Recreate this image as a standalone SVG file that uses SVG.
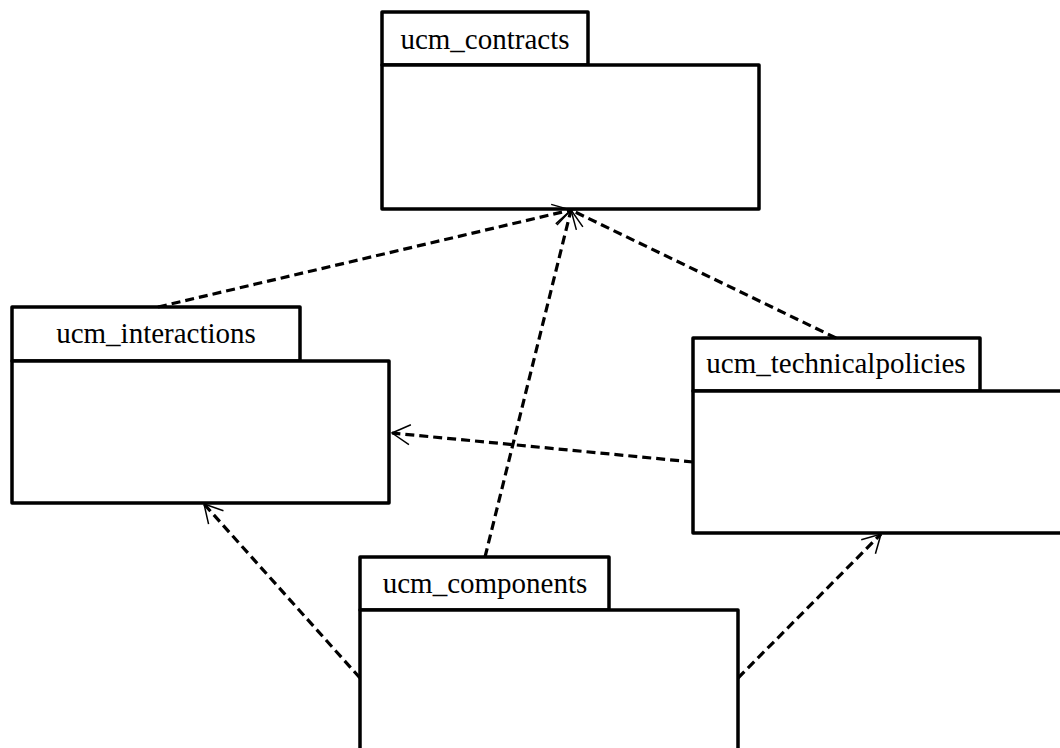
<svg xmlns="http://www.w3.org/2000/svg" width="1060" height="748" viewBox="0 0 1060 748">
<style>
.box{fill:#fff;stroke:#000;stroke-width:3.5;stroke-linejoin:round}
.lbl{font-size:29px;fill:#000;text-anchor:middle}
.dep{fill:none;stroke:#000;stroke-width:3.2;stroke-dasharray:9,5;marker-end:url(#open)}
</style>
<defs>
<marker id="open" markerUnits="userSpaceOnUse" viewBox="-21 -12 23 24" markerWidth="23" markerHeight="24" refX="0" refY="0" orient="auto">
<path d="M-18,-10 L0,0 L-18,10" fill="none" stroke="#000" stroke-width="1.5"/>
</marker>
</defs>
<rect width="1060" height="748" fill="#fff"/>
<g id="ucm_contracts">
<rect class="box" x="382" y="12" width="206" height="53"/>
<rect class="box" x="382" y="65" width="377" height="144"/>
<text class="lbl" font-family="'Liberation Serif', 'Times New Roman', Times, serif" x="485" y="49">ucm_contracts</text>
</g>
<g id="ucm_interactions">
<rect class="box" x="12" y="307" width="288" height="54"/>
<rect class="box" x="12" y="361" width="377" height="142"/>
<text class="lbl" font-family="'Liberation Serif', 'Times New Roman', Times, serif" x="156" y="343">ucm_interactions</text>
</g>
<g id="ucm_technicalpolicies">
<rect class="box" x="693" y="338" width="287" height="53"/>
<rect class="box" x="693" y="391" width="400" height="142"/>
<text class="lbl" font-family="'Liberation Serif', 'Times New Roman', Times, serif" x="836" y="373">ucm_technicalpolicies</text>
</g>
<g id="ucm_components">
<rect class="box" x="360" y="557" width="249" height="53"/>
<rect class="box" x="360" y="610" width="378" height="160"/>
<text class="lbl" font-family="'Liberation Serif', 'Times New Roman', Times, serif" x="485" y="593">ucm_components</text>
</g>
<g id="connectors">
<path class="dep" d="M158,307 L571,210"/>
<path class="dep" d="M485,557 L571,210"/>
<path class="dep" d="M836,338 L571,210"/>
<path class="dep" d="M693,462 L392,433"/>
<path class="dep" d="M360,678 L204,504"/>
<path class="dep" d="M738,678 L881,534"/>
</g>
</svg>
